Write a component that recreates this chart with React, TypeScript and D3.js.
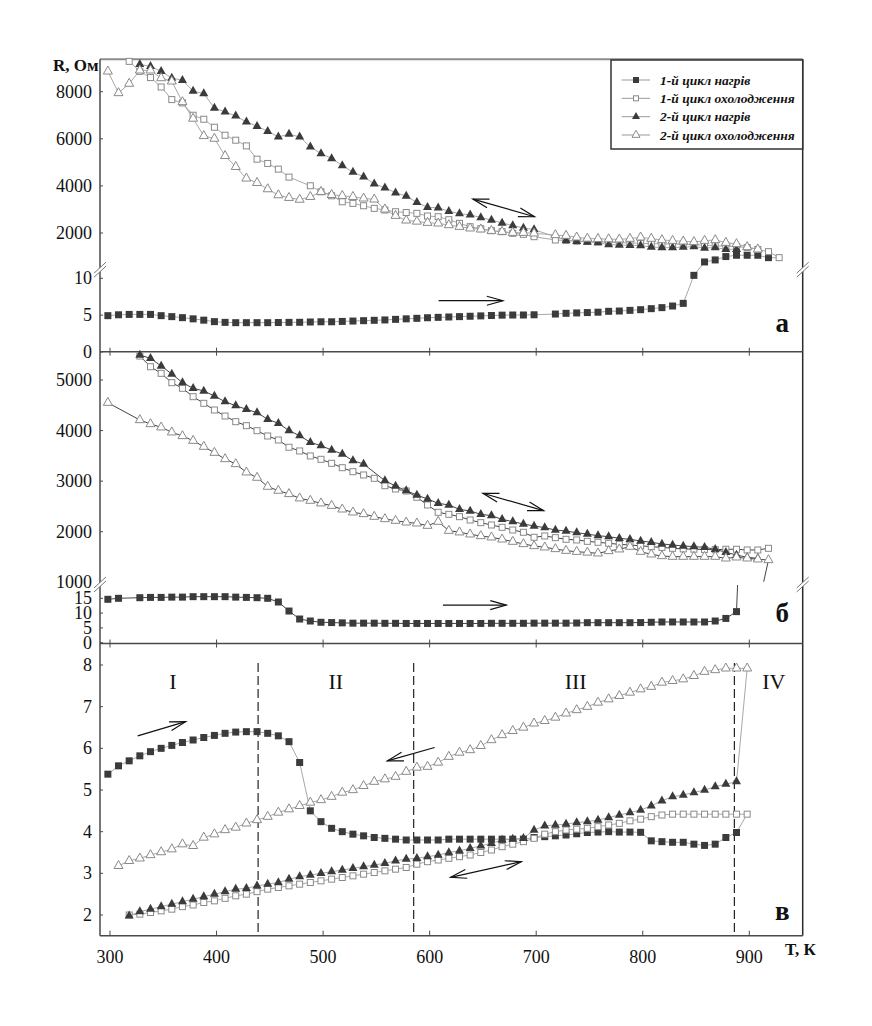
import React from 'react';
import * as d3 from 'd3';

type Pt = [number, number];

// ---------- tick labels / categories ----------
const xTicks = [300, 400, 500, 600, 700, 800, 900];
const aUpperTicks = [2000, 4000, 6000, 8000];
const aLowerTicks = [0, 5, 10];
const bUpperTicks = [1000, 2000, 3000, 4000, 5000];
const bLowerTicks = [0, 5, 10, 15];
const cTicks = [2, 3, 4, 5, 6, 7, 8];

const legendLabels = ['1-й цикл нагрів', '1-й цикл охолодження', '2-й цикл нагрів', '2-й цикл охолодження'];
const markerKinds = ['sqF', 'sqO', 'trF', 'trO'];

const regionLabels = ['I', 'II', 'III', 'IV'];
const regionLabelT = [359, 512, 737, 923];
const regionLabelV = 7.6;
const cDividers = [439, 585, 886];

// ---------- panel a (R, Ohm) ----------
const aHeat1: Pt[] = [[298,4.93],[308,5.05],[318,5.1],[328,5.1],[338,5.1],[348,4.93],[358,4.8],[368,4.66],[378,4.5],[388,4.32],[398,4.12],[408,4.02],[418,3.98],[428,3.98],[438,3.98],[448,3.98],[458,4.0],[468,4.02],[478,4.03],[488,4.07],[498,4.1],[508,4.1],[518,4.15],[528,4.2],[538,4.25],[548,4.3],[558,4.35],[568,4.43],[578,4.5],[588,4.57],[598,4.65],[608,4.7],[618,4.75],[628,4.8],[638,4.85],[648,4.9],[658,4.95],[668,5.0],[678,5.02],[688,5.02],[698,5.05],[718,5.15],[728,5.25],[738,5.3],[748,5.35],[758,5.4],[768,5.52],[778,5.56],[788,5.65],[798,5.74],[808,5.88],[818,6.02],[828,6.24],[838,6.6],[848,10.4],[858,770],[868,856],[878,1000],[888,1055],[898,1055],[908,1055],[918,953]];
const aCool1: Pt[] = [[318,9288],[328,8864],[338,8600],[348,8199],[358,7665],[368,7524],[378,7000],[388,6830],[398,6491],[408,6152],[418,5940],[428,5699],[438,5135],[448,4953],[458,4712],[468,4373],[488,4005],[498,3750],[508,3580],[518,3326],[528,3257],[538,3157],[548,3046],[558,2975],[568,2903],[578,2870],[588,2835],[598,2720],[608,2691],[618,2565],[628,2410],[638,2267],[648,2182],[658,2097],[668,2055],[678,1986],[688,1945],[698,1843],[718,1703],[728,1680],[738,1650],[748,1640],[758,1620],[768,1600],[778,1590],[788,1580],[798,1560],[808,1550],[818,1540],[828,1530],[838,1520],[848,1500],[858,1480],[868,1460],[878,1440],[888,1420],[898,1380],[908,1300],[918,1208],[928,953]];
const aHeat2: Pt[] = [[328,9161],[338,9076],[348,8864],[358,8580],[368,8483],[378,8029],[388,7919],[398,7309],[408,7140],[418,6970],[428,6716],[438,6534],[448,6322],[458,6080],[468,6195],[478,6080],[488,5657],[498,5375],[508,5165],[518,4868],[528,4585],[538,4386],[548,4089],[558,3920],[568,3708],[578,3568],[588,3300],[598,3089],[608,3070],[618,2925],[628,2820],[638,2770],[648,2658],[658,2551],[668,2424],[678,2318],[688,2213],[698,2142],[728,1690],[738,1650],[748,1610],[758,1590],[768,1510],[778,1490],[788,1478],[798,1463],[808,1407],[818,1379],[828,1379],[838,1400],[848,1421],[858,1364],[868,1379],[878,1309],[888,1309]];
const aCool2: Pt[] = [[298,8864],[308,7945],[318,8343],[328,8906],[338,8906],[348,8580],[358,8440],[368,7563],[378,6860],[388,6123],[398,6010],[408,5275],[418,4810],[428,4318],[438,4131],[448,3864],[458,3610],[468,3496],[478,3420],[488,3538],[498,3750],[508,3620],[518,3580],[528,3538],[538,3470],[548,3428],[558,3004],[568,2733],[578,2536],[588,2490],[598,2438],[608,2410],[618,2339],[628,2267],[638,2199],[648,2157],[658,2097],[668,2055],[678,2013],[688,2013],[698,1986],[718,1915],[728,1886],[738,1816],[748,1767],[758,1753],[768,1740],[778,1732],[788,1760],[798,1816],[808,1760],[818,1703],[828,1674],[838,1646],[848,1619],[858,1674],[868,1703],[878,1590],[888,1534],[898,1407],[908,1309]];

// ---------- panel b ----------
const bHeat1: Pt[] = [[298,14.66],[308,15.0],[328,15.2],[338,15.3],[348,15.3],[358,15.4],[368,15.4],[378,15.55],[388,15.55],[398,15.55],[408,15.55],[418,15.4],[428,15.3],[438,15.2],[448,15.0],[458,13.75],[468,10.7],[478,8.0],[488,7.33],[498,6.9],[508,6.8],[518,6.7],[528,6.6],[538,6.6],[548,6.6],[558,6.55],[568,6.55],[578,6.5],[588,6.5],[598,6.5],[608,6.5],[618,6.5],[628,6.5],[638,6.5],[648,6.5],[658,6.55],[668,6.55],[678,6.55],[688,6.55],[698,6.6],[708,6.6],[718,6.6],[728,6.6],[738,6.65],[748,6.76],[758,6.76],[768,6.76],[778,6.76],[788,6.76],[798,6.8],[808,6.9],[818,7.0],[828,7.0],[838,7.0],[848,7.0],[858,7.0],[868,7.33],[878,8.2],[888,10.5]];
const bHeat1Tail: Pt[] = [[888,10.5],[889,19.5]];
const bCool1: Pt[] = [[328,5474],[338,5263],[348,5132],[358,4947],[368,4836],[378,4670],[388,4539],[398,4407],[408,4288],[418,4176],[428,4097],[438,3998],[448,3893],[458,3814],[468,3670],[478,3597],[488,3498],[498,3432],[508,3353],[518,3266],[528,3187],[538,3122],[548,3056],[558,2910],[568,2845],[578,2805],[588,2681],[598,2529],[608,2384],[618,2344],[628,2298],[638,2232],[648,2179],[658,2133],[668,2088],[678,2034],[688,1989],[698,1890],[708,1916],[718,1883],[728,1850],[738,1837],[748,1810],[758,1791],[768,1771],[778,1750],[788,1738],[798,1720],[808,1705],[818,1690],[828,1672],[838,1660],[848,1655],[858,1650],[868,1645],[878,1653],[888,1653],[898,1639],[908,1639],[918,1672]];
const bHeat2: Pt[] = [[328,5494],[338,5429],[348,5277],[358,5119],[368,4947],[378,4836],[388,4783],[398,4684],[408,4571],[418,4492],[428,4421],[438,4354],[448,4223],[458,4144],[468,3998],[478,3899],[488,3768],[498,3701],[508,3616],[518,3537],[528,3405],[538,3339],[558,3010],[568,2904],[578,2812],[588,2726],[598,2647],[608,2562],[618,2529],[628,2443],[638,2410],[648,2344],[658,2318],[668,2245],[678,2199],[688,2153],[698,2114],[708,2080],[718,2034],[728,2014],[738,1981],[748,1952],[758,1922],[768,1902],[778,1870],[788,1850],[798,1817],[808,1791],[818,1758],[828,1738],[838,1718],[848,1705],[858,1692],[868,1653],[878,1593],[888,1540],[898,1494],[908,1474]];
const bCool2: Pt[] = [[298,4551],[328,4209],[338,4130],[348,4065],[358,3966],[368,3893],[378,3800],[388,3682],[398,3563],[408,3438],[418,3339],[428,3175],[438,3070],[448,2892],[458,2813],[468,2747],[478,2662],[488,2615],[498,2563],[508,2515],[518,2443],[528,2384],[538,2351],[548,2298],[558,2252],[568,2219],[578,2186],[588,2166],[598,2120],[608,2199],[618,2021],[628,1989],[638,1949],[648,1916],[658,1890],[668,1850],[678,1804],[688,1758],[698,1718],[708,1692],[718,1659],[728,1625],[738,1605],[748,1590],[758,1573],[768,1619],[778,1653],[788,1705],[798,1606],[808,1553],[818,1520],[828,1507],[838,1507],[848,1507],[858,1507],[868,1507],[878,1474],[888,1494],[898,1474],[908,1455],[918,1441]];
const bCool2Tail: Pt[] = [[918,1441],[913.5,1010]];

// ---------- panel c ----------
const cHeat1: Pt[] = [[298,5.38],[308,5.58],[318,5.70],[328,5.82],[338,5.92],[348,6.0],[358,6.07],[368,6.14],[378,6.2],[388,6.26],[398,6.31],[408,6.36],[418,6.39],[428,6.40],[438,6.40],[448,6.36],[458,6.30],[468,6.16],[478,5.66],[488,4.5],[498,4.24],[508,4.08],[518,4.0],[528,3.94],[538,3.9],[548,3.86],[558,3.84],[568,3.82],[578,3.8],[588,3.8],[598,3.8],[608,3.8],[618,3.82],[628,3.82],[638,3.82],[648,3.82],[658,3.82],[668,3.82],[678,3.82],[688,3.82],[698,3.86],[708,3.88],[718,3.9],[728,3.92],[738,3.95],[748,3.98],[758,3.99],[768,4.0],[778,3.99],[788,3.99],[798,3.985],[808,3.78],[818,3.76],[828,3.745],[838,3.745],[848,3.70],[858,3.67],[868,3.70],[878,3.86],[888,3.98]];
const cCool1: Pt[] = [[318,2.0],[328,2.02],[338,2.06],[348,2.1],[358,2.14],[368,2.2],[378,2.24],[388,2.30],[398,2.34],[408,2.4],[418,2.46],[428,2.5],[438,2.56],[448,2.62],[458,2.66],[468,2.70],[478,2.74],[488,2.78],[498,2.82],[508,2.86],[518,2.9],[528,2.94],[538,2.98],[548,3.02],[558,3.06],[568,3.10],[578,3.14],[588,3.22],[598,3.28],[608,3.32],[618,3.36],[628,3.40],[638,3.44],[648,3.50],[658,3.56],[668,3.64],[678,3.70],[688,3.76],[698,3.84],[708,3.94],[718,4.0],[728,4.04],[738,4.06],[748,4.08],[758,4.12],[768,4.16],[778,4.2],[788,4.26],[798,4.30],[808,4.36],[818,4.40],[828,4.42],[838,4.42],[848,4.42],[858,4.42],[868,4.42],[878,4.42],[888,4.42],[898,4.42]];
const cHeat2: Pt[] = [[318,1.98],[328,2.08],[338,2.14],[348,2.2],[358,2.26],[368,2.32],[378,2.38],[388,2.44],[398,2.5],[408,2.56],[418,2.62],[428,2.64],[438,2.70],[448,2.74],[458,2.78],[468,2.86],[478,2.92],[488,2.96],[498,3.0],[508,3.04],[518,3.08],[528,3.12],[538,3.16],[548,3.2],[558,3.24],[568,3.30],[578,3.34],[588,3.36],[598,3.40],[608,3.44],[618,3.50],[628,3.54],[638,3.60],[648,3.66],[658,3.72],[668,3.8],[678,3.82],[688,3.84],[698,4.04],[708,4.14],[718,4.16],[728,4.18],[738,4.22],[748,4.24],[758,4.28],[768,4.34],[778,4.40],[788,4.46],[798,4.52],[808,4.62],[818,4.74],[828,4.84],[838,4.88],[848,4.94],[858,5.0],[868,5.08],[878,5.14],[888,5.2]];
const cCool2: Pt[] = [[308,3.18],[318,3.30],[328,3.36],[338,3.44],[348,3.51],[358,3.58],[368,3.70],[378,3.66],[388,3.86],[398,3.94],[408,4.04],[418,4.10],[428,4.2],[438,4.28],[448,4.36],[458,4.46],[468,4.54],[478,4.62],[488,4.70],[498,4.76],[508,4.84],[518,4.94],[528,5.0],[538,5.10],[548,5.2],[558,5.26],[568,5.32],[578,5.44],[588,5.54],[598,5.56],[608,5.66],[618,5.80],[628,5.90],[638,5.96],[648,6.06],[658,6.2],[668,6.32],[678,6.42],[688,6.50],[698,6.6],[708,6.66],[718,6.74],[728,6.84],[738,6.92],[748,7.0],[758,7.10],[768,7.18],[778,7.26],[788,7.34],[798,7.42],[808,7.48],[818,7.58],[828,7.62],[838,7.66],[848,7.74],[858,7.84],[868,7.88],[878,7.92],[888,7.92],[898,7.92]];

// ---------- annotations (data units) ----------
const aArrows = [{ from: [640.6, 3441] as Pt, to: [698.4, 2691] as Pt, both: true }, { from: [608.4, 6.96] as Pt, to: [668.7, 6.96] as Pt, both: false }];
const bArrows = [{ from: [650, 2760] as Pt, to: [707, 2416] as Pt, both: true }, { from: [612.5, 12.7] as Pt, to: [671.9, 12.7] as Pt, both: false }];
const cArrows = [
  { from: [326, 6.30] as Pt, to: [371, 6.64] as Pt, both: false },
  { from: [604.7, 6.02] as Pt, to: [560.3, 5.70] as Pt, both: false },
  { from: [619.7, 2.905] as Pt, to: [686, 3.28] as Pt, both: true },
];
const panelLetters = ['а', 'б', 'в'];
const panelLetterPos: Pt[] = [[931, 2.7], [931, 7.1], [931, 1.88]];

// ---------- layout ----------
const FONT = '"Liberation Serif", "Times New Roman", Times, serif';
const LEFT = 100, RIGHT = 802.7, TOP = 59.3, A_BOT = 351.7, B_BOT = 643.5, C_BOT = 935.7;

const x = d3.scaleLinear().domain([300, 900]).range([110, 749.3]);

const yaUp = d3.scaleLinear().domain([2000, 8000]).range([233, 91.7]);
const yaLo = d3.scaleLinear().domain([0, 10]).range([352, 278.3]);
const A_SPLIT = 11.1;
const ya = (v: number) => (v > A_SPLIT ? yaUp(v) : yaLo(v));
const A_BREAK_Y = yaLo(A_SPLIT);

const ybUp = d3.scaleLinear().domain([1000, 5000]).range([582.3, 380]);
const ybLo = d3.scaleLinear().domain([0, 15]).range([642.7, 598.3]);
const B_SPLIT = 19.5;
const yb = (v: number) => (v > B_SPLIT ? ybUp(v) : ybLo(v));
const B_BREAK_Y = ybLo(B_SPLIT);

const yc = d3.scaleLinear().domain([2, 8]).range([915, 665]);

const DARK = '#3b3b3b';
const OPEN = '#8a8a8a';
const LIGHT_LINE = '#a8a8a8';
const DARK_LINE = '#454545';
const AXIS = '#4a4a4a';

function Marker({ kind, cx, cy, s = 7 }: { kind: string; cx: number; cy: number; s?: number }) {
  if (kind === 'sqF') return <rect x={cx - s / 2} y={cy - s / 2} width={s} height={s} fill={DARK} />;
  if (kind === 'sqO')
    return <rect x={cx - s / 2 + 0.5} y={cy - s / 2 + 0.5} width={s - 1} height={s - 1} fill="#fff" stroke={OPEN} strokeWidth={1} />;
  const w = s + 2, h = s + 1;
  const p = `M${cx},${cy - (h * 2) / 3}L${cx - w / 2},${cy + h / 3}L${cx + w / 2},${cy + h / 3}Z`;
  if (kind === 'trF') return <path d={p} fill={DARK} />;
  return <path d={p} fill="#fff" stroke={OPEN} strokeWidth={1} strokeLinejoin="miter" />;
}

type SeriesCfg = { data: Pt[]; kind: string; join?: Pt[] };

function Panel({ series, y, lineColor, tails = [] }: { series: SeriesCfg[]; y: (v: number) => number; lineColor: string; tails?: Pt[][] }) {
  const line = d3.line<Pt>().x((d) => x(d[0])).y((d) => y(d[1]));
  return (
    <g>
      {series.map((s, i) => {
        const pts = s.join ? [...s.data, s.join[s.join.length - 1]] : s.data;
        return <path key={'l' + i} d={line(pts) || ''} fill="none" stroke={lineColor} strokeWidth={1} />;
      })}
      {tails.map((t, i) => (
        <path key={'t' + i} d={line(t) || ''} fill="none" stroke={lineColor} strokeWidth={1} />
      ))}
      {series.map((s, i) => (
        <g key={'m' + i}>
          {s.data.map((d, j) => (
            <Marker key={j} kind={s.kind} cx={x(d[0])} cy={y(d[1])} />
          ))}
        </g>
      ))}
    </g>
  );
}

function Arrow({ from, to, both, y }: { from: Pt; to: Pt; both: boolean; y: (v: number) => number }) {
  const x1 = x(from[0]), y1 = y(from[1]), x2 = x(to[0]), y2 = y(to[1]);
  const head = (tx: number, ty: number, sx: number, sy: number) => {
    const dx = tx - sx, dy = ty - sy;
    const L = Math.hypot(dx, dy);
    const ux = dx / L, uy = dy / L;
    const hl = 16, hw = 4.5;
    const bx = tx - ux * hl, by = ty - uy * hl;
    return `M${bx - uy * hw},${by + ux * hw}L${tx},${ty}L${bx + uy * hw},${by - ux * hw}`;
  };
  return (
    <g stroke="#111" strokeWidth={1.2} fill="none">
      <line x1={x1} y1={y1} x2={x2} y2={y2} />
      <path d={head(x2, y2, x1, y1)} />
      {both && <path d={head(x1, y1, x2, y2)} />}
    </g>
  );
}

function BreakMark({ cx, cy }: { cx: number; cy: number }) {
  return (
    <g>
      <polygon points={`${cx - 6},${cy + 7} ${cx + 6},${cy - 4} ${cx + 6},${cy - 8} ${cx - 6},${cy + 3}`} fill="#fff" />
      <line x1={cx - 6} y1={cy + 7} x2={cx + 6} y2={cy - 4} stroke="#777" strokeWidth={1} />
      <line x1={cx - 6} y1={cy + 3} x2={cx + 6} y2={cy - 8} stroke="#777" strokeWidth={1} />
    </g>
  );
}

function YLabels({ ticks, y }: { ticks: number[]; y: (v: number) => number }) {
  return (
    <g>
      {ticks.map((t) => (
        <g key={t}>
          <line x1={LEFT} x2={LEFT + 3} y1={y(t)} y2={y(t)} stroke={AXIS} strokeWidth={1} />
          <text x={LEFT - 8} y={y(t) + 6} textAnchor="end" fontSize={18} fontFamily={FONT} fill="#111">
            {t}
          </text>
        </g>
      ))}
    </g>
  );
}

export default function App() {
  const aSeries: SeriesCfg[] = [
    { data: aHeat1, kind: 'sqF' },
    { data: aCool1, kind: 'sqO', join: aHeat1 },
    { data: aHeat2, kind: 'trF' },
    { data: aCool2, kind: 'trO' },
  ];
  const bSeries: SeriesCfg[] = [
    { data: bHeat1, kind: 'sqF' },
    { data: bCool1, kind: 'sqO' },
    { data: bHeat2, kind: 'trF' },
    { data: bCool2, kind: 'trO' },
  ];
  const cSeries: SeriesCfg[] = [
    { data: cHeat1, kind: 'sqF' },
    { data: cCool1, kind: 'sqO', join: cHeat1 },
    { data: cHeat2, kind: 'trF' },
    { data: cCool2, kind: 'trO', join: cHeat2 },
  ];
  const legendRowY = [80, 98.3, 116.7, 135];

  return (
    <svg width={872} height={1026} style={{ position: 'absolute', left: 0, top: 0 }} fontFamily={FONT}>
      <rect x={0} y={0} width={872} height={1026} fill="#fff" />

      {/* frame */}
      <line x1={LEFT} x2={RIGHT} y1={TOP} y2={TOP} stroke="#8c8c8c" strokeWidth={2} />
      <line x1={LEFT} x2={LEFT} y1={TOP} y2={C_BOT} stroke={AXIS} strokeWidth={1.5} />
      <line x1={RIGHT} x2={RIGHT} y1={TOP} y2={C_BOT} stroke="#2a2a2a" strokeWidth={1.5} />
      <line x1={LEFT} x2={RIGHT} y1={A_BOT} y2={A_BOT} stroke={AXIS} strokeWidth={1.5} />
      <line x1={LEFT} x2={RIGHT} y1={B_BOT} y2={B_BOT} stroke={AXIS} strokeWidth={1.5} />
      <line x1={LEFT} x2={RIGHT} y1={C_BOT} y2={C_BOT} stroke={AXIS} strokeWidth={1.5} />

      {/* x ticks */}
      {xTicks.map((t) => (
        <g key={t} stroke={AXIS} strokeWidth={1}>
          <line x1={x(t)} x2={x(t)} y1={A_BOT - 4} y2={A_BOT + 4} />
          <line x1={x(t)} x2={x(t)} y1={B_BOT - 4} y2={B_BOT + 4} />
          <line x1={x(t)} x2={x(t)} y1={C_BOT - 5} y2={C_BOT} />
          <text x={x(t)} y={963} textAnchor="middle" fontSize={18} stroke="none" fill="#111">
            {t}
          </text>
        </g>
      ))}

      {/* y labels */}
      <YLabels ticks={aUpperTicks} y={yaUp} />
      <YLabels ticks={aLowerTicks} y={yaLo} />
      <YLabels ticks={bUpperTicks} y={ybUp} />
      <YLabels ticks={bLowerTicks} y={ybLo} />
      <YLabels ticks={cTicks} y={yc} />

      {/* break marks */}
      <BreakMark cx={LEFT} cy={A_BREAK_Y} />
      <BreakMark cx={RIGHT} cy={A_BREAK_Y} />
      <BreakMark cx={LEFT} cy={B_BREAK_Y} />
      <BreakMark cx={RIGHT} cy={B_BREAK_Y} />

      {/* panel c dividers */}
      {cDividers.map((t) => (
        <line key={t} x1={x(t)} x2={x(t)} y1={yc(8.05)} y2={C_BOT} stroke="#222" strokeWidth={1.2} strokeDasharray="9,4" />
      ))}
      {regionLabels.map((r, i) => (
        <text key={r} x={x(regionLabelT[i])} y={yc(regionLabelV) + 7} textAnchor="middle" fontSize={22} fill="#111">
          {r}
        </text>
      ))}

      {/* data */}
      <Panel series={aSeries} y={ya} lineColor={LIGHT_LINE} />
      <Panel series={bSeries} y={yb} lineColor={DARK_LINE} tails={[bHeat1Tail, bCool2Tail]} />
      <Panel series={cSeries} y={yc} lineColor={LIGHT_LINE} />

      {/* arrows */}
      {aArrows.map((a, i) => <Arrow key={'a' + i} {...a} y={ya} />)}
      {bArrows.map((a, i) => <Arrow key={'b' + i} {...a} y={yb} />)}
      {cArrows.map((a, i) => <Arrow key={'c' + i} {...a} y={yc} />)}

      {/* panel letters */}
      <text x={x(panelLetterPos[0][0])} y={ya(panelLetterPos[0][1])} textAnchor="middle" fontSize={27} fontWeight="bold" fill="#111">{panelLetters[0]}</text>
      <text x={x(panelLetterPos[1][0])} y={yb(panelLetterPos[1][1])} textAnchor="middle" fontSize={27} fontWeight="bold" fill="#111">{panelLetters[1]}</text>
      <text x={x(panelLetterPos[2][0])} y={yc(panelLetterPos[2][1])} textAnchor="middle" fontSize={27} fontWeight="bold" fill="#111">{panelLetters[2]}</text>

      {/* axis titles */}
      <text x={53} y={71} fontSize={17} fontWeight="bold" fill="#111">R, Ом</text>
      <text x={785} y={955} fontSize={17} fontWeight="bold" fill="#111">T, К</text>

      {/* legend */}
      <rect x={611} y={60} width={RIGHT - 611} height={89} fill="#fff" stroke="#333" strokeWidth={1.5} />
      {legendLabels.map((lab, i) => (
        <g key={lab}>
          <line x1={621.7} x2={650} y1={legendRowY[i]} y2={legendRowY[i]} stroke="#999" strokeWidth={1} />
          <Marker kind={markerKinds[i]} cx={636} cy={legendRowY[i]} s={6} />
          <text x={660} y={legendRowY[i] + 4.5} fontSize={13.5} fontWeight="bold" fontStyle="italic" fill="#111">
            {lab}
          </text>
        </g>
      ))}
    </svg>
  );
}
